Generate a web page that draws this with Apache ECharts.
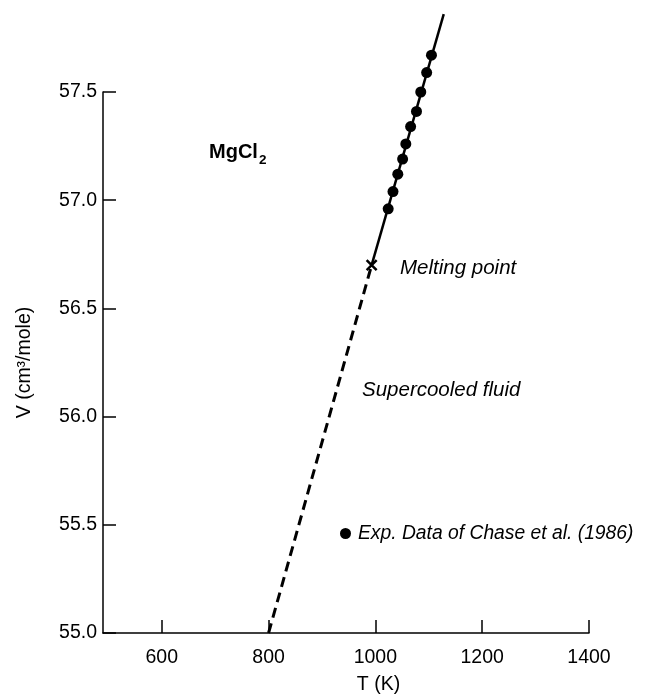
<!DOCTYPE html>
<html>
<head>
<meta charset="utf-8">
<script src="https://cdn.jsdelivr.net/npm/echarts@6/dist/echarts.min.js"></script>
<style>
  html, body { margin: 0; padding: 0; background: #fff; }
  #chart { width: 647px; height: 700px; }
</style>
</head>
<body>
<div id="chart"></div>
<script>
// axis ticks
const xTicks = [600, 800, 1000, 1200, 1400];
const yTicks = [55.0, 55.5, 56.0, 56.5, 57.0, 57.5];

// experimental points (Chase et al. 1986)
const expT = [1024, 1033, 1042, 1051, 1057, 1066, 1077, 1085, 1096, 1105];
const expV = [56.96, 57.04, 57.12, 57.19, 57.26, 57.34, 57.41, 57.50, 57.59, 57.67];

// melting point
const meltT = 993;
const meltV = 56.70;

// supercooled (dashed) and liquid (solid) branches
const supercooledT = [800, meltT];
const supercooledV = [55.0, meltV];
const liquidT = [meltT, 1128];
const liquidV = [meltV, 57.86];

const FONT = "'Liberation Sans', Arial, Helvetica, sans-serif";
const FS = 19.5;
const zip = (a, b) => a.map((v, i) => [v, b[i]]);

const chart = echarts.init(document.getElementById('chart'));

chart.setOption({
  animation: false,
  backgroundColor: '#fff',
  textStyle: { fontFamily: FONT, color: '#000' },
  grid: { left: 103, right: 58, top: 92, bottom: 67 },
  legend: {
    left: 340,
    top: 524,
    padding: 0,
    itemWidth: 11,
    itemHeight: 11,
    data: [{ name: 'Exp. Data of Chase et al. (1986)', icon: 'circle' }],
    textStyle: { fontFamily: FONT, fontSize: 19.3, fontStyle: 'italic', color: '#000', padding: [0, 0, 0, 2] },
  },
  xAxis: {
    type: 'value',
    min: 490,
    max: 1400,
    name: 'T (K)',
    nameLocation: 'middle',
    nameGap: 42,
    nameTextStyle: { fontFamily: FONT, fontSize: FS, color: '#000', padding: [0, 0, 0, 65] },
    axisLine: { show: true, lineStyle: { color: '#000', width: 1.5 } },
    axisTick: { show: true, inside: true, length: 13, lineStyle: { color: '#000', width: 1.5 }, customValues: xTicks },
    axisLabel: {
      fontFamily: FONT, fontSize: FS, color: '#000', margin: 15,
      customValues: xTicks,
      formatter: (v) => String(v),
    },
    splitLine: { show: false },
  },
  yAxis: {
    type: 'value',
    min: 55.0,
    max: 57.5,
    name: 'V (cm³/mole)',
    nameLocation: 'middle',
    nameGap: 68,
    nameTextStyle: { fontFamily: FONT, fontSize: FS, color: '#000' },
    axisLine: { show: true, lineStyle: { color: '#000', width: 1.5 } },
    axisTick: { show: true, inside: true, length: 13, lineStyle: { color: '#000', width: 1.5 }, customValues: yTicks },
    axisLabel: {
      fontFamily: FONT, fontSize: FS, color: '#000', margin: 6,
      customValues: yTicks,
      formatter: (v) => v.toFixed(1),
    },
    splitLine: { show: false },
  },
  graphic: [
    {
      type: 'text', left: 209, top: 142,
      style: {
        text: '{b|MgCl}{s|2}',
        rich: {
          b: { fontFamily: FONT, fontSize: 20, fontWeight: 'bold', fill: '#000' },
          s: { fontFamily: FONT, fontSize: 13.5, fontWeight: 'bold', fill: '#000', padding: [16, 0, 0, 1] },
        },
      },
    },
    {
      type: 'text', x: 400, y: 268,
      style: { text: 'Melting point', font: `italic 20.5px ${FONT}`, fill: '#000', verticalAlign: 'middle' },
    },
    {
      type: 'text', x: 362, y: 390,
      style: { text: 'Supercooled fluid', font: `italic 20.5px ${FONT}`, fill: '#000', verticalAlign: 'middle' },
    },
  ],
  series: [
    {
      name: 'supercooled',
      type: 'line',
      data: zip(supercooledT, supercooledV),
      symbol: 'none',
      clip: false,
      lineStyle: { color: '#000', width: 3, type: [10, 6] },
      z: 2,
    },
    {
      name: 'liquid',
      type: 'line',
      data: zip(liquidT, liquidV),
      symbol: 'none',
      clip: false,
      lineStyle: { color: '#000', width: 2.5 },
      z: 2,
    },
    {
      name: 'melting',
      type: 'scatter',
      data: [[meltT, meltV]],
      symbol: 'path://M0,0L10,10M10,0L0,10',
      symbolSize: 10,
      clip: false,
      itemStyle: { color: 'none', borderColor: '#000', borderWidth: 2.5, opacity: 1 },
      z: 3,
    },
    {
      name: 'Exp. Data of Chase et al. (1986)',
      type: 'scatter',
      data: zip(expT, expV),
      symbol: 'circle',
      symbolSize: 11,
      clip: false,
      itemStyle: { color: '#000', opacity: 1 },
      z: 4,
    },
  ],
});
</script>
</body>
</html>
